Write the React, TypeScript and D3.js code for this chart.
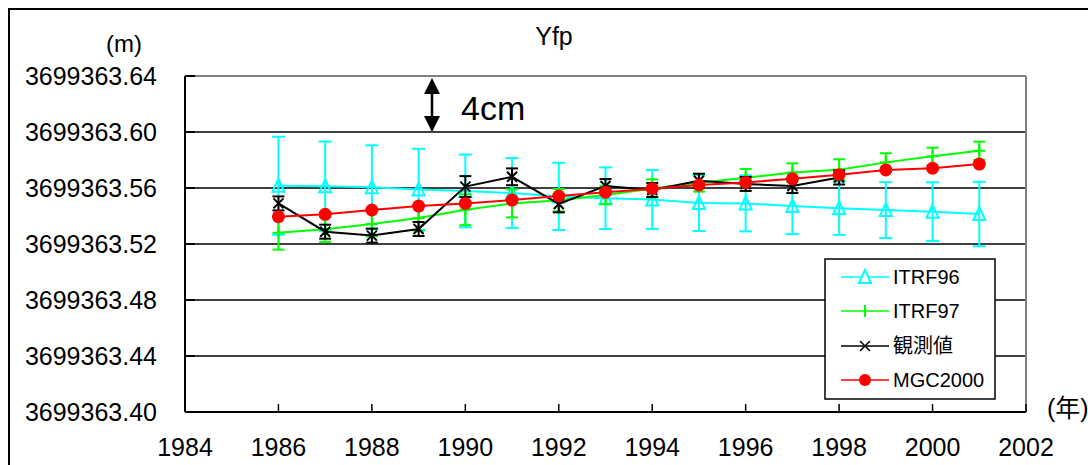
import React from 'react';
import * as d3 from 'd3';

// years shared by all series
const years = [1986, 1987, 1988, 1989, 1990, 1991, 1992, 1993, 1994, 1995, 1996, 1997, 1998, 1999, 2000, 2001];

const itrf96 = [3699363.5616, 3699363.5612, 3699363.5605, 3699363.559, 3699363.5579, 3699363.5564, 3699363.554, 3699363.5527, 3699363.5518, 3699363.5493, 3699363.549, 3699363.5471, 3699363.5455, 3699363.5442, 3699363.5431, 3699363.5414];
const itrf96Err = [0.035, 0.032, 0.030, 0.029, 0.026, 0.025, 0.024, 0.022, 0.021, 0.020, 0.020, 0.020, 0.019, 0.020, 0.021, 0.023];

const itrf97 = [3699363.528, 3699363.5305, 3699363.5343, 3699363.5385, 3699363.5445, 3699363.549, 3699363.5513, 3699363.555, 3699363.5597, 3699363.5637, 3699363.5673, 3699363.571, 3699363.5731, 3699363.5783, 3699363.5826, 3699363.5866];
const itrf97Err = [0.012, 0.009, 0.009, 0.009, 0.011, 0.010, 0.008, 0.0065, 0.0065, 0.0063, 0.0063, 0.0066, 0.0074, 0.0065, 0.0062, 0.0065];

// observed values only up to 1998
const observed = [3699363.549, 3699363.5288, 3699363.526, 3699363.5307, 3699363.561, 3699363.568, 3699363.5486, 3699363.5614, 3699363.5586, 3699363.5652, 3699363.5629, 3699363.5614, 3699363.5675];
const observedErr = [0.005, 0.005, 0.005, 0.005, 0.0075, 0.006, 0.006, 0.005, 0.005, 0.005, 0.005, 0.005, 0.005];

const mgc2000 = [3699363.5395, 3699363.5412, 3699363.5443, 3699363.5471, 3699363.549, 3699363.5514, 3699363.5543, 3699363.557, 3699363.5595, 3699363.5621, 3699363.564, 3699363.5666, 3699363.5695, 3699363.5729, 3699363.5741, 3699363.5771];

const xTicks = [1984, 1986, 1988, 1990, 1992, 1994, 1996, 1998, 2000, 2002];
const yTicks = [3699363.40, 3699363.44, 3699363.48, 3699363.52, 3699363.56, 3699363.60, 3699363.64];

const legendItems = ['ITRF96', 'ITRF97', '観測値', 'MGC2000'];

const FONT = '"Liberation Sans", Arial, "Noto Sans CJK JP", sans-serif';
const CYAN = '#00ffff';
const GREEN = '#00ff00';
const RED = '#ff0000';

const left = 185, right = 1026, top = 76, bottom = 412;

export default function App() {
  const x = d3.scaleLinear().domain([1984, 2002]).range([left, right]);
  const y = d3.scaleLinear().domain([3699363.40, 3699363.64]).range([bottom, top]);
  const line = d3.line<[number, number]>().x(d => x(d[0])).y(d => y(d[1]));
  const fmt = d3.format('.2f');

  const pts = (vals: number[]) => vals.map((v, i) => [years[i], v] as [number, number]);

  const errBars = (vals: number[], errs: number[], color: string, cap: number) =>
    vals.map((v, i) => {
      const cx = x(years[i]);
      const y1 = y(v + errs[i]);
      const y2 = y(v - errs[i]);
      return (
        <g key={i} stroke={color} strokeWidth={2}>
          <line x1={cx} x2={cx} y1={y1} y2={y2} />
          <line x1={cx - cap} x2={cx + cap} y1={y1} y2={y1} />
          <line x1={cx - cap} x2={cx + cap} y1={y2} y2={y2} />
        </g>
      );
    });

  const triangle = (cx: number, cy: number) =>
    `M${cx},${cy - 7}L${cx + 6},${cy + 6}L${cx - 6},${cy + 6}Z`;
  const cross = (cx: number, cy: number, s = 5) =>
    `M${cx - s},${cy - s}L${cx + s},${cy + s}M${cx - s},${cy + s}L${cx + s},${cy - s}`;

  const legendX = 825, legendY = 259;
  const legendRows = [277, 311, 346, 380];

  return (
    <svg width={1088} height={465} style={{ position: 'absolute', left: 0, top: 0, background: '#fff' }} fontFamily={FONT}>
      {/* outer frame */}
      <rect x={9} y={9} width={1200} height={600} fill="#fff" stroke="#000" strokeWidth={2} />

      {/* grid lines */}
      {yTicks.slice(1, -1).map(t => (
        <line key={t} x1={left} x2={right} y1={y(t)} y2={y(t)} stroke="#000" strokeWidth={1.5} />
      ))}
      <line x1={left} x2={right} y1={top} y2={top} stroke="#808080" strokeWidth={2} />
      <line x1={right} x2={right} y1={top} y2={bottom} stroke="#808080" strokeWidth={2} />

      {/* axes */}
      <line x1={left} x2={left} y1={top} y2={bottom} stroke="#000" strokeWidth={2} />
      <line x1={left} x2={right} y1={bottom} y2={bottom} stroke="#000" strokeWidth={2} />
      {yTicks.map(t => (
        <line key={t} x1={left} x2={left + 10} y1={y(t)} y2={y(t)} stroke="#000" strokeWidth={2} />
      ))}
      {xTicks.map(t => (
        <line key={t} x1={x(t)} x2={x(t)} y1={bottom} y2={bottom - 8} stroke="#000" strokeWidth={1.5} />
      ))}
      {yTicks.map(t => (
        <text key={t} x={157} y={y(t) + 9} fontSize={25} textAnchor="end" fill="#000">{fmt(t)}</text>
      ))}
      {xTicks.map(t => (
        <text key={t} x={x(t)} y={456} fontSize={25} textAnchor="middle" fill="#000">{t}</text>
      ))}

      <text x={124} y={52} fontSize={24} textAnchor="middle">(m)</text>
      <text x={554} y={45} fontSize={25} textAnchor="middle">Yfp</text>
      <text x={1047} y={417} fontSize={25}>(年)</text>

      {/* 4cm annotation */}
      <line x1={432} x2={432} y1={90} y2={120} stroke="#000" strokeWidth={2.5} />
      <path d="M432,78L440,94L424,94Z" fill="#000" />
      <path d="M432,132L440,116L424,116Z" fill="#000" />
      <text x={461} y={120} fontSize={34}>4cm</text>

      {/* ITRF96 */}
      <g>
        {errBars(itrf96, itrf96Err, CYAN, 6.5)}
        <path d={line(pts(itrf96)) ?? ''} fill="none" stroke={CYAN} strokeWidth={2} />
        {itrf96.map((v, i) => (
          <path key={i} d={triangle(x(years[i]), y(v))} fill="none" stroke={CYAN} strokeWidth={2} />
        ))}
      </g>

      {/* ITRF97 */}
      <g>
        {errBars(itrf97, itrf97Err, GREEN, 6)}
        <path d={line(pts(itrf97)) ?? ''} fill="none" stroke={GREEN} strokeWidth={2} />
        {itrf97.map((v, i) => (
          <g key={i} stroke={GREEN} strokeWidth={2}>
            <line x1={x(years[i])} x2={x(years[i])} y1={y(v) - 6} y2={y(v) + 6} />
            <line x1={x(years[i]) - 6} x2={x(years[i]) + 6} y1={y(v)} y2={y(v)} />
          </g>
        ))}
      </g>

      {/* observed */}
      <g>
        {errBars(observed, observedErr, '#000', 6)}
        <path d={line(pts(observed)) ?? ''} fill="none" stroke="#000" strokeWidth={2} />
        {observed.map((v, i) => (
          <path key={i} d={cross(x(years[i]), y(v))} fill="none" stroke="#000" strokeWidth={2} />
        ))}
      </g>

      {/* MGC2000 */}
      <g>
        <path d={line(pts(mgc2000)) ?? ''} fill="none" stroke={RED} strokeWidth={2} />
        {mgc2000.map((v, i) => (
          <circle key={i} cx={x(years[i])} cy={y(v)} r={6.5} fill={RED} />
        ))}
      </g>

      {/* legend */}
      <rect x={legendX} y={legendY} width={170} height={140} fill="#fff" stroke="#000" strokeWidth={1.5} />
      {legendItems.map((name, i) => {
        const ly = legendRows[i];
        const color = [CYAN, GREEN, '#000', RED][i];
        const mx = 865;
        return (
          <g key={name}>
            <line x1={841} x2={889} y1={ly} y2={ly} stroke={color} strokeWidth={1.5} />
            {i === 0 && <path d={triangle(mx, ly)} fill="#fff" stroke={color} strokeWidth={2} />}
            {i === 1 && <line x1={mx} x2={mx} y1={ly - 6} y2={ly + 6} stroke={color} strokeWidth={2} />}
            {i === 2 && <path d={cross(mx, ly)} stroke={color} strokeWidth={1.5} />}
            {i === 3 && <circle cx={mx} cy={ly} r={6} fill={color} />}
            <text x={893} y={ly + 7} fontSize={20}>{name}</text>
          </g>
        );
      })}
    </svg>
  );
}
